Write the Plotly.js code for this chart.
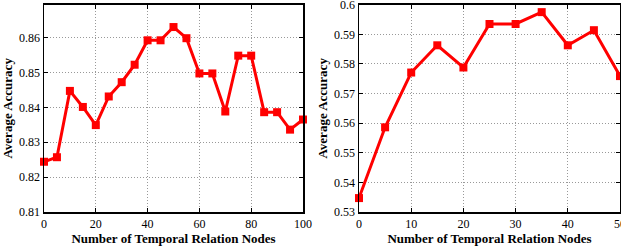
<!DOCTYPE html>
<html><head><meta charset="utf-8">
<script src="https://cdn.plot.ly/plotly-3.0.1.min.js"></script>
<style>body{margin:0;padding:0;background:#fff}#c{width:621px;height:248px}</style>
</head><body><div id="c"></div>
<script>
const leftNodes = [0,5,10,15,20,25,30,35,40,45,50,55,60,65,70,75,80,85,90,95,100];
const leftAcc = [0.8244,0.8257,0.8447,0.8401,0.8349,0.8431,0.8472,0.8522,0.8592,0.8592,0.8630,0.8598,0.8497,0.8497,0.8388,0.8548,0.8548,0.8386,0.8386,0.8336,0.8365];
const rightNodes = [0,5,10,15,20,25,30,35,40,45,50];
const rightAcc = [0.5347,0.5586,0.5771,0.5863,0.5788,0.5935,0.5935,0.5975,0.5863,0.5914,0.5759];
const leftYTicks = [0.81,0.82,0.83,0.84,0.85,0.86];
const leftXTicks = [0,20,40,60,80,100];
const rightYTicks = [0.53,0.54,0.55,0.56,0.57,0.58,0.59,0.6];
const rightXTicks = [0,10,20,30,40,50];
const xTitle = 'Number of Temporal Relation Nodes';
const yTitle = 'Average Accuracy';

const W = 621, H = 248;
const red = '#ff0000';
const tr = (x, y, xa, ya) => ({
  x, y, xaxis: xa, yaxis: ya, type: 'scatter', mode: 'lines+markers',
  line: {color: red, width: 3},
  marker: {symbol: 'square', size: 8, color: red},
  cliponaxis: false, showlegend: false, hoverinfo: 'none'
});
const font = {family: '"Liberation Serif", "Times New Roman", serif', size: 12, color: '#000'};
const titleFont = {family: '"Liberation Serif", "Times New Roman", serif', size: 13, color: '#000', weight: 'bold'};
const ax = (extra) => Object.assign({
  showline: true, mirror: 'ticks', linecolor: '#000', linewidth: 1.5,
  ticks: 'inside', ticklen: 4, tickcolor: '#000', tickwidth: 1,
  showgrid: true, gridcolor: '#999999', gridwidth: 1, griddash: '1px,2px',
  zeroline: false, tickfont: font, fixedrange: true, automargin: false,
  ticklabeloverflow: 'allow'
}, extra);
const yb = (H - 212) / H, yt = (H - 4.7) / H;
const layout = {
  width: W, height: H, margin: {l: 0, r: 0, t: 0, b: 0},
  paper_bgcolor: '#fff', plot_bgcolor: '#fff',
  xaxis: ax({domain: [44/W, 303/W], range: [0, 100.0001], tickvals: leftXTicks, anchor: 'y',
    title: {text: xTitle, font: titleFont, standoff: 1}}),
  yaxis: ax({domain: [yb, yt], range: [0.81, 0.8694], tickvals: leftYTicks, anchor: 'x',
    title: {text: yTitle, font: titleFont, standoff: 3}}),
  xaxis2: ax({domain: [359/W, 620/W], range: [0, 50.0001], tickvals: rightXTicks, anchor: 'y2',
    title: {text: xTitle, font: titleFont, standoff: 1}}),
  yaxis2: ax({domain: [yb, yt], range: [0.53, 0.60001], tickvals: rightYTicks, anchor: 'x2',
    title: {text: yTitle, font: titleFont, standoff: 3}})
};
Plotly.newPlot('c', [tr(leftNodes, leftAcc, 'x', 'y'), tr(rightNodes, rightAcc, 'x2', 'y2')], layout, {staticPlot: true, displayModeBar: false});
</script></body></html>
